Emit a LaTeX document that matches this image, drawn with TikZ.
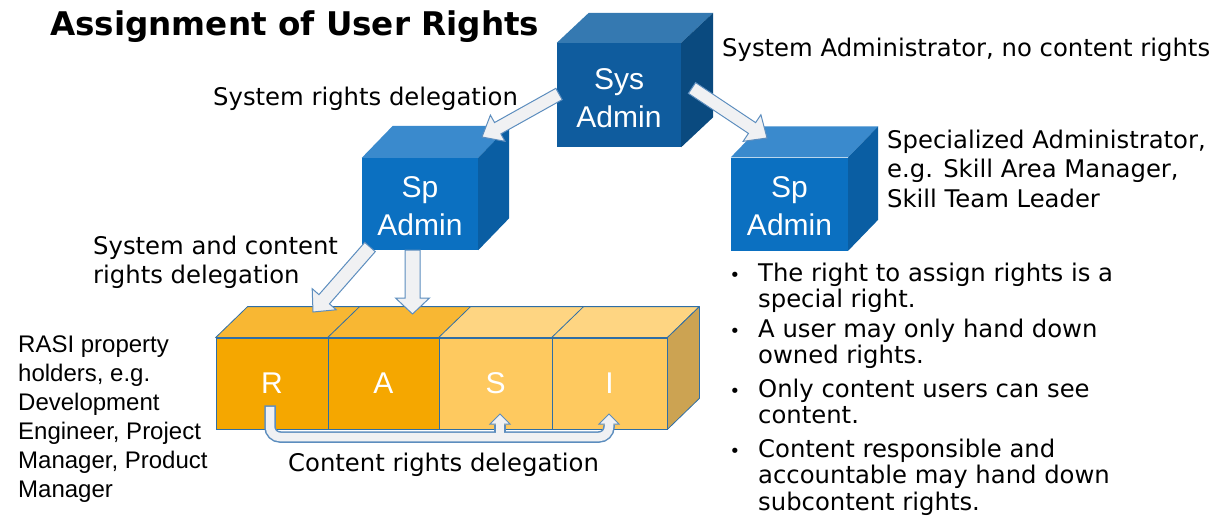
\documentclass[tikz,border=0pt]{standalone}
\usepackage{fontspec}
\setmainfont{DejaVu Sans}
\newfontfamily\arialf{Liberation Sans}
\usetikzlibrary{calc}
\definecolor{sysfront}{HTML}{0F5C9E}
\definecolor{systop}{HTML}{3579B1}
\definecolor{sysright}{HTML}{0A4A7F}
\definecolor{spfront}{HTML}{0B70C1}
\definecolor{sptop}{HTML}{3A8ACD}
\definecolor{spright}{HTML}{0A5EA3}
\definecolor{rafront}{HTML}{F5A700}
\definecolor{ratop}{HTML}{F8B733}
\definecolor{sifront}{HTML}{FEC95F}
\definecolor{sitop}{HTML}{FED582}
\definecolor{rasiside}{HTML}{CCA352}
\definecolor{edgeblue}{HTML}{2F6EA5}
\definecolor{arrfill}{HTML}{F0F1F3}
\definecolor{arrline}{HTML}{5C8DBE}
\newcommand\blockarrow[5]{%
  \coordinate (ba-h) at ($(#2)!#5!(#1)$);
  \filldraw[arrowbody] ($(#1)!#3!90:(#2)$) -- ($(ba-h)!#3!90:(#2)$) -- ($(ba-h)!#4!90:(#2)$) -- (#2)
    -- ($(ba-h)!#4!-90:(#2)$) -- ($(ba-h)!#3!-90:(#2)$) -- ($(#1)!#3!-90:(#2)$) -- cycle;}
\newcommand\cubesides[5]{% node, dx, dy, top colour, side colour
  \fill[#4] (#1.north west) -- (#1.north east) -- ++(#2,#3) -- ($(#1.north west)+(#2,#3)$) -- cycle;
  \fill[#5] (#1.north east) -- ++(#2,#3) -- ($(#1.south east)+(#2,#3)$) -- (#1.south east) -- cycle;}
\begin{document}
\begin{tikzpicture}[x=1pt,y=-1pt,
  cubefront/.style={inner sep=0pt},
  cubetext/.style={inner sep=0pt, text=white, align=center,
    font=\arialf\fontsize{30}{38}\selectfont},
  rasibox/.style={inner sep=0pt, text=white, draw=edgeblue, line width=0.8pt,
    minimum height=91pt, font=\arialf\fontsize{30}{36}\selectfont},
  rasitop/.style={draw=edgeblue, line width=0.8pt, line join=round},
  arrowbody/.style={fill=arrfill, draw=arrline, line width=1pt, line join=miter},
  txt/.style={anchor=base west, inner sep=0pt, font=\fontsize{24.3}{28}\selectfont},
  atxt/.style={anchor=base west, inner sep=0pt, font=\arialf\fontsize{24}{29}\selectfont},
  bul/.style={anchor=base, inner sep=0pt, font=\fontsize{18}{18}\selectfont}]
\useasboundingbox (0,0) rectangle (1227,520);

% ---- blue cubes ----
\node[cubefront, fill=sysfront, minimum width=124pt, minimum height=104pt] (sys) at (619,95) {};
\cubesides{sys}{32}{-30}{systop}{sysright}
\node[cubetext] (syst) at (619,98.5) {Sys\\Admin};
\node[cubefront, fill=spfront, minimum width=116pt, minimum height=92pt] (spl) at (420,204) {};
\cubesides{spl}{31}{-32}{sptop}{spright}
\node[cubetext] (splt) at (420,206.5) {Sp\\Admin};
\node[cubefront, fill=spfront, minimum width=117pt, minimum height=93pt] (spr) at (789.5,204) {};
\cubesides{spr}{30}{-31}{sptop}{spright}
\node[cubetext] (sprt) at (789.5,206.5) {Sp\\Admin};

% ---- RASI block ----
\node[rasibox, fill=rafront, minimum width=112pt] (r) at (272,383.5) {R};
\node[rasibox, fill=rafront, minimum width=111pt] (a) at (383.5,383.5) {A};
\node[rasibox, fill=sifront, minimum width=113pt] (s) at (495.5,383.5) {S};
\node[rasibox, fill=sifront, minimum width=115pt] (i) at (609.5,383.5) {I};
\filldraw[rasitop, fill=ratop] (r.north west) -- (r.north east) -- ++(32,-31) -- ($(r.north west)+(32,-31)$) -- cycle;
\filldraw[rasitop, fill=ratop] (a.north west) -- (a.north east) -- ++(32,-31) -- ($(a.north west)+(32,-31)$) -- cycle;
\filldraw[rasitop, fill=sitop] (s.north west) -- (s.north east) -- ++(32,-31) -- ($(s.north west)+(32,-31)$) -- cycle;
\filldraw[rasitop, fill=sitop] (i.north west) -- (i.north east) -- ++(32,-31) -- ($(i.north west)+(32,-31)$) -- cycle;
\filldraw[rasitop, fill=rasiside] (i.north east) -- ++(32,-31) -- ($(i.south east)+(32,-31)$) -- (i.south east) -- cycle;

% ---- delegation arrows ----
\coordinate (a1t) at (559,94);   \coordinate (a1h) at (482,137);
\coordinate (a2t) at (692,88);   \coordinate (a2h) at (767,138);
\coordinate (a3t) at (370,247);  \coordinate (a3h) at (313,312);
\coordinate (a4t) at (412.5,250);\coordinate (a4h) at (412.5,314);
\blockarrow{a1t}{a1h}{6.5pt}{15pt}{18pt}
\blockarrow{a2t}{a2h}{6.5pt}{16pt}{18pt}
\blockarrow{a3t}{a3h}{7pt}{16pt}{17pt}
\blockarrow{a4t}{a4h}{7.5pt}{17pt}{16pt}

% ---- content rights delegation (bent arrow) ----
\coordinate (c0) at (270,405.3);
\coordinate (c1) at (270,406.8);
\coordinate (cs) at (500,414);
\coordinate (ci) at (609,414);
\draw[arrline, line width=11.5pt, rounded corners=10pt] (c0) |- ($(ci)+(0,23)$) -- ($(ci)+(0,11)$);
\draw[arrline, line width=11.5pt] ($(cs)+(0,23)$) -- ($(cs)+(0,11)$);
\filldraw[arrowbody] ($(cs)+(-10,10)$) -- (cs) -- ($(cs)+(10,10)$) -- cycle;
\filldraw[arrowbody] ($(ci)+(-10,10)$) -- (ci) -- ($(ci)+(10,10)$) -- cycle;
\draw[arrfill, line width=8.5pt, rounded corners=10pt] (c1) |- ($(ci)+(0,23)$) -- ($(ci)+(0,9.2)$);
\draw[arrfill, line width=8.5pt] ($(cs)+(0,23)$) -- ($(cs)+(0,9.2)$);

% ---- texts ----
\node[txt, font=\bfseries\fontsize{32.6}{36}\selectfont] (title) at (50,35) {Assignment of User Rights};
\node[txt] (tsys) at (722,56) {System Administrator, no content rights};
\node[txt] (tsysdel) at (213,105) {System rights delegation};
\node[txt] (tspec1) at (887,148) {Specialized Administrator,};
\node[txt] (tspec2) at (887,177.5) {e.g. Skill Area Manager,};
\node[txt] (tspec3) at (887,207) {Skill Team Leader};
\node[txt] (tsc1) at (93,254) {System and content};
\node[txt] (tsc2) at (93,283) {rights delegation};
\node[atxt] (tr1) at (18,352) {RASI property};
\node[atxt] (tr2) at (18,381) {holders, e.g.};
\node[atxt] (tr3) at (18,410) {Development};
\node[atxt] (tr4) at (18,439) {Engineer, Project};
\node[atxt] (tr5) at (18,468) {Manager, Product};
\node[atxt] (tr6) at (18,497) {Manager};
\node[txt] (tcrd) at (288,471) {Content rights delegation};

\node[bul] (b1) at (735,281) {•};
\node[bul] (b2) at (735,337) {•};
\node[bul] (b3) at (735,397) {•};
\node[bul] (b4) at (735,457) {•};
\node[txt] (l1) at (758,281) {The right to assign rights is a};
\node[txt] (l2) at (758,307.5) {special right.};
\node[txt] (l3) at (758,337) {A user may only hand down};
\node[txt] (l4) at (758,363.5) {owned rights.};
\node[txt] (l5) at (758,397) {Only content users can see};
\node[txt] (l6) at (758,423.5) {content.};
\node[txt] (l7) at (758,457) {Content responsible and};
\node[txt] (l8) at (758,483.5) {accountable may hand down};
\node[txt] (l9) at (758,510) {subcontent rights.};
\end{tikzpicture}
\end{document}
